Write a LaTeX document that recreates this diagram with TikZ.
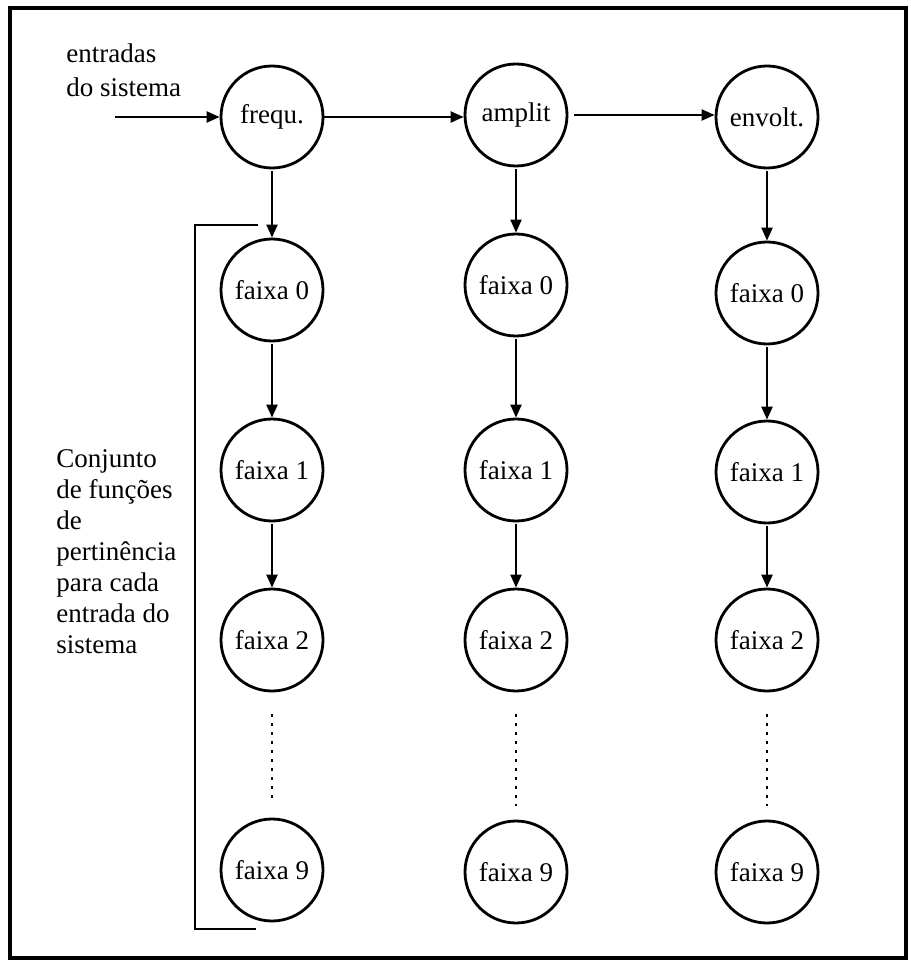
\documentclass[tikz,border=0pt]{standalone}
\usepackage{fontspec}
\setmainfont{Liberation Serif}
\usetikzlibrary{arrows.meta}
\begin{document}
\begin{tikzpicture}[x=0.5pt,y=-0.5pt,
  state/.style={circle,draw,line width=1.4pt,minimum size=51pt,inner sep=0pt,
    font=\fontsize{13.5}{16}\selectfont},
  flow/.style={line width=1.1pt,-{Triangle[length=6.5pt,width=5.5pt]}},
  ellipsis/.style={line width=1.1pt,dash pattern=on 1.1pt off 3.4pt},
  label/.style={font=\fontsize{13.5}{15.5}\selectfont,align=left,anchor=north west,inner sep=0pt},
  frame/.style={line width=1.6pt},
  bracket/.style={line width=1.4pt}]
\useasboundingbox (0,0) rectangle (910,961);
\draw[frame] (10,8) rectangle (906,958);

% inputs of the system
\node[state] (f)  at (272,117) {frequ.};
\node[state] (a)  at (516,115) {amplit};
\node[state] (e)  at (767,117) {envolt.};

% membership bands per input
\node[state] (f0) at (272,290) {faixa 0};
\node[state] (f1) at (272,470) {faixa 1};
\node[state] (f2) at (272,640) {faixa 2};
\node[state] (f9) at (272,870) {faixa 9};

\node[state] (a0) at (516,285) {faixa 0};
\node[state] (a1) at (516,470) {faixa 1};
\node[state] (a2) at (516,640) {faixa 2};
\node[state] (a9) at (516,872) {faixa 9};

\node[state] (e0) at (767,293) {faixa 0};
\node[state] (e1) at (767,472) {faixa 1};
\node[state] (e2) at (767,640) {faixa 2};
\node[state] (e9) at (767,872) {faixa 9};

% text
\node[label] (inlbl) at (66,43) {entradas\\[1.5pt]do sistema};
\node[label] (setlbl) at (56,449) {Conjunto\\de funções\\de\\pertinência\\para cada\\entrada do\\sistema};

% horizontal chain
\coordinate (src) at (115,117);
\draw[flow] (src) -- (f.west);
\draw[flow] (f.east) -- (f.east -| a.west);
\draw[flow,shorten <=3pt] (a.east) -- (a.east -| e.west);

% vertical chains
\foreach \c in {f,a,e}{
  \draw[flow,shorten <=1pt] (\c.south) -- (\c0.north);
  \draw[flow,shorten <=1pt] (\c0.south) -- (\c1.north);
  \draw[flow,shorten <=1pt] (\c1.south) -- (\c2.north);
  \draw[ellipsis,shorten <=11pt,shorten >=7pt] (\c2.south) -- (\c9.north);
}

% bracket grouping the bands
\coordinate (bt) at (258,225);
\coordinate (bb) at (256,929);
\draw[bracket] (bt) -- (195,225) -- (195,929) -- (bb);
\end{tikzpicture}
\end{document}
